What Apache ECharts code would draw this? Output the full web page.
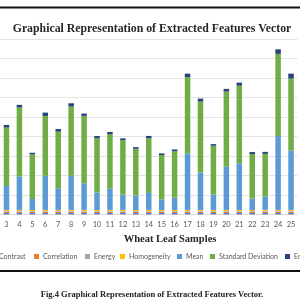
<!DOCTYPE html>
<html>
<head>
<meta charset="utf-8">
<script src="https://cdn.jsdelivr.net/npm/echarts@6/dist/echarts.min.js"></script>
<style>
  html, body { margin: 0; padding: 0; background: #fff; }
  #main { width: 300px; height: 300px; }
</style>
</head>
<body>
<div id="main"></div>
<script>
// samples 3..25 are the ones visible in the cropped figure
const samples = ["3", "4", "5", "6", "7", "8", "9", "10", "11", "12", "13", "14",
  "15", "16", "17", "18", "19", "20", "21", "22", "23", "24", "25"];

const contrast = [1.5, 1.5, 1.4, 1.5, 1.5, 1.5, 1.5, 1.4, 1.5, 1.5, 1.4, 1.5,
  1.4, 1.4, 1.5, 1.5, 1.4, 1.5, 1.5, 1.4, 1.4, 1.5, 1.5];
const correlation = [1.2, 1.2, 1.2, 1.2, 1.2, 1.2, 1.2, 1.2, 1.2, 1.2, 1.2, 1.2,
  1.2, 1.2, 1.2, 1.2, 1.2, 1.2, 1.2, 1.2, 1.4, 1.2, 1.2];
const energy = [0.8, 0.8, 0.8, 0.8, 0.8, 0.8, 0.8, 0.8, 0.8, 0.8, 0.8, 0.8,
  0.8, 0.8, 0.8, 0.8, 0.8, 0.8, 0.8, 0.8, 0.8, 0.8, 0.8];
const homogeneity = [1.0, 1.0, 1.0, 1.0, 1.0, 1.0, 1.0, 1.0, 1.0, 1.0, 1.0, 1.0,
  1.0, 1.0, 1.0, 1.0, 1.0, 1.0, 1.0, 1.0, 1.0, 1.0, 1.0];
const mean = [24.7, 34.3, 11.3, 35.0, 22.2, 35.0, 27.4, 18.1, 22.2, 15.7, 15.0, 17.5,
  10.9, 12.7, 58.2, 38.7, 16.0, 44.5, 47.9, 11.9, 13.7, 76.1, 61.0];
const stdDev = [60.0, 71.0, 45.9, 61.7, 58.3, 71.3, 69.3, 55.6, 55.6, 55.9, 48.0, 56.2,
  45.7, 47.6, 78.2, 72.7, 50.1, 77.2, 79.9, 45.7, 43.9, 84.4, 74.1];
const entropy = [2.7, 2.8, 1.7, 3.4, 2.7, 3.4, 2.4, 2.4, 2.4, 2.0, 1.7, 2.4,
  1.6, 2.0, 3.8, 3.1, 1.7, 2.8, 3.1, 2.0, 2.0, 4.7, 5.1];

const seriesNames = ["Contrast", "Correlation", "Energy", "Homogeneity",
  "Mean", "Standard Deviation", "Entropy"];
const seriesData = [contrast, correlation, energy, homogeneity, mean, stdDev, entropy];
const colors = ["#4472c4", "#ed7d31", "#a5a5a5", "#ffc000", "#5b9bd5", "#70ad47", "#264478"];
// left edge of each legend marker (the figure is cropped, so some are off-screen)
const legendLeft = [-10, 34, 85, 120, 177, 210, 285];

const mc = echarts.init(document.getElementById("main"));

const option = {
  animation: false,
  color: colors,
  title: [
    {
      text: "Graphical Representation of Extracted Features Vector",
      left: 147, top: 18, textAlign: "center",
      textStyle: { fontFamily: "Liberation Serif", fontWeight: "bold", fontSize: 11.8, color: "#262626" },
    },
    {
      text: "Wheat Leaf Samples",
      left: 165, top: 229, textAlign: "center",
      textStyle: { fontFamily: "Liberation Serif", fontWeight: "bold", fontSize: 10.5, color: "#262626" },
    },
    {
      text: "Fig.4 Graphical Representation of Extracted Features Vector.",
      left: 147, top: 285, textAlign: "center",
      textStyle: { fontFamily: "Liberation Serif", fontWeight: "bold", fontSize: 8.5, color: "#222" },
    },
  ],
  legend: seriesNames.map((name, i) => ({
    data: [name],
    left: legendLeft[i],
    top: 253,
    padding: 0,
    itemWidth: 5,
    itemHeight: 5,
    itemGap: 0,
    icon: "rect",
    selectedMode: false,
    textStyle: { fontFamily: "Lato", fontSize: 7, color: "#595959", padding: [0, 0, 0, -1] },
  })),
  grid: { left: -4.5, right: 2.5, top: 39.3, bottom: 85.7 },
  xAxis: {
    type: "category",
    data: samples,
    axisLine: { lineStyle: { color: "#d9d9d9" } },
    axisTick: { show: false },
    axisLabel: { color: "#595959", fontSize: 7.5, fontFamily: "Lato", margin: 6 },
  },
  yAxis: {
    type: "value",
    min: 0,
    max: 180,
    interval: 20,
    axisLabel: { show: false },
    axisLine: { show: false },
    axisTick: { show: false },
    splitLine: { lineStyle: { color: "#e3e3e3", width: 1 } },
  },
  graphic: [
    { type: "rect", shape: { x: 0, y: 6.5, width: 300, height: 2 }, style: { fill: "#111" } },
    { type: "rect", shape: { x: 0, y: 270, width: 300, height: 2 }, style: { fill: "#111" } },
  ],
  series: seriesNames.map((name, i) => ({
    name: name,
    type: "bar",
    stack: "total",
    barWidth: 5.5,
    data: seriesData[i],
  })),
};

mc.setOption(option);
</script>
</body>
</html>
